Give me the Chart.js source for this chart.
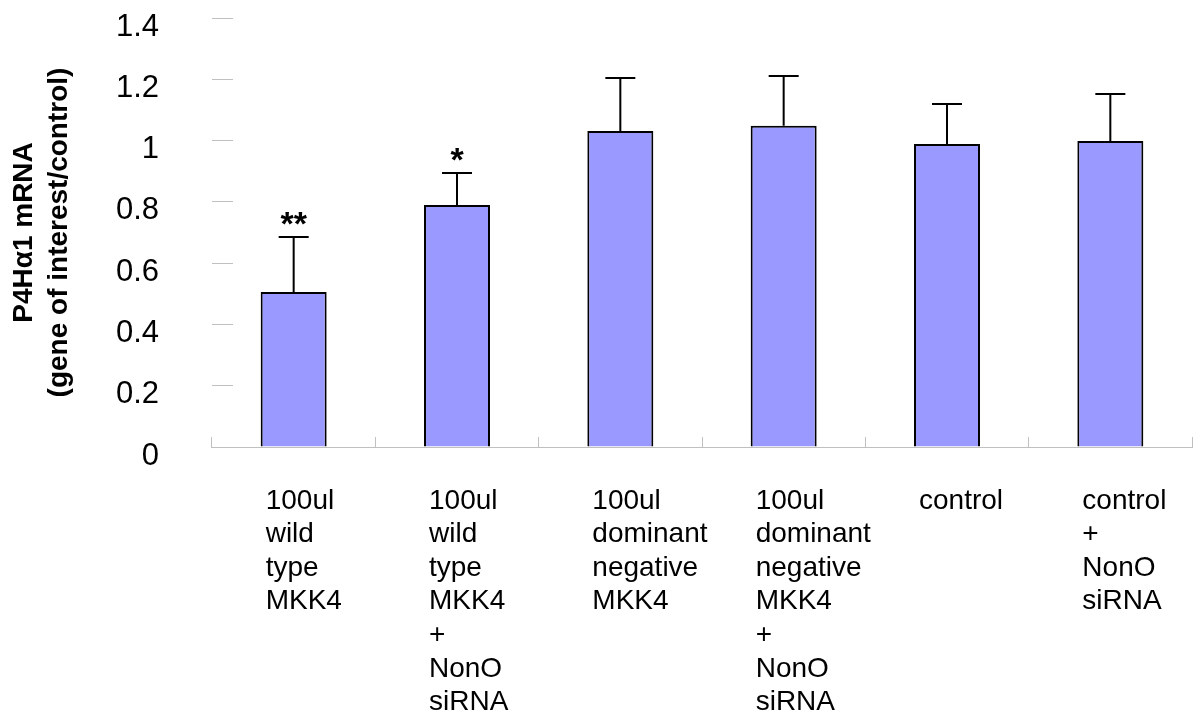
<!DOCTYPE html>
<html>
<head>
<meta charset="utf-8">
<script src="https://cdn.jsdelivr.net/npm/chart.js@4.4.0/dist/chart.umd.min.js"></script>
<style>
    html, body { margin: 0; padding: 0; background: #fff; }
    #wrap { width: 1199px; height: 719px; }
</style>
</head>
<body>
<div id="wrap"><canvas id="chart"></canvas></div>
<script>
// Data
var categories = [
    ["100ul", "wild", "type", "MKK4"],
    ["100ul", "wild", "type", "MKK4", "+", "NonO", "siRNA"],
    ["100ul", "dominant", "negative", "MKK4"],
    ["100ul", "dominant", "negative", "MKK4", "+", "NonO", "siRNA"],
    ["control"],
    ["control", "+", "NonO", "siRNA"]
];
var meanValues = [0.506, 0.790, 1.031, 1.048, 0.989, 0.999];
var errorValues = [0.179, 0.104, 0.173, 0.163, 0.130, 0.153];
var significance = ["**", "*", "", "", "", ""];
var yTickLabels = ["0", "0.2", "0.4", "0.6", "0.8", "1", "1.2", "1.4"];

var fontFamily = "'Liberation Sans', Arial, sans-serif";

// Upper error whiskers + significance stars
var errorBarPlugin = {
    id: "errorBars",
    afterDatasetsDraw: function (chart) {
        var ctx = chart.ctx;
        var yScale = chart.scales.y;
        var meta = chart.getDatasetMeta(0);
        ctx.save();
        ctx.strokeStyle = "#000";
        ctx.lineWidth = 2;
        meta.data.forEach(function (bar, i) {
            var top = yScale.getPixelForValue(meanValues[i] + errorValues[i]);
            var x = bar.x;
            ctx.beginPath();
            ctx.moveTo(x, bar.y);
            ctx.lineTo(x, top);
            ctx.moveTo(x - 15, top);
            ctx.lineTo(x + 15, top);
            ctx.stroke();
            if (significance[i]) {
                ctx.fillStyle = "#000";
                ctx.font = "bold 34px " + fontFamily;
                ctx.textAlign = "center";
                ctx.textBaseline = "alphabetic";
                ctx.fillText(significance[i], x, top - 2);
            }
        });
        ctx.restore();
    }
};

var ctx = document.getElementById("chart").getContext("2d");
new Chart(ctx, {
    type: "bar",
    data: {
        labels: categories,
        datasets: [{
            data: meanValues,
            backgroundColor: "#9999ff",
            borderColor: "#000",
            borderWidth: 2,
            barPercentage: 0.404,
            categoryPercentage: 1
        }]
    },
    options: {
        responsive: true,
        maintainAspectRatio: false,
        animation: false,
        layout: { padding: { top: 18, right: 7, bottom: 0, left: 0 } },
        plugins: {
            legend: { display: false },
            tooltip: { enabled: false }
        },
        scales: {
            x: {
                grid: {
                    drawOnChartArea: false,
                    drawTicks: true,
                    tickLength: -10,
                    color: "#c0c0c0",
                    lineWidth: 1,
                    offset: true
                },
                border: { display: true, color: "#c0c0c0", width: 1 },
                ticks: {
                    color: "#000",
                    font: { family: fontFamily, size: 28, lineHeight: 1.2 },
                    align: "start",
                    labelOffset: -28,
                    padding: 47,
                    maxRotation: 0,
                    minRotation: 0,
                    autoSkip: false
                },
                afterFit: function (scale) {
                    scale.height = 272;
                    scale.paddingLeft = 0;
                    scale.paddingRight = 0;
                }
            },
            y: {
                min: 0,
                max: 1.4,
                ticks: {
                    stepSize: 0.2,
                    color: "#000",
                    font: { family: fontFamily, size: 31 },
                    padding: 74,
                    labelOffset: 9,
                    callback: function (value, index) {
                        return yTickLabels[index];
                    }
                },
                grid: {
                    drawOnChartArea: false,
                    drawTicks: true,
                    tickLength: -21,
                    color: "#c0c0c0"
                },
                border: { display: false },
                title: {
                    display: true,
                    text: ["P4H\u03b11 mRNA", "(gene of interest/control)"],
                    color: "#000",
                    font: { family: fontFamily, size: 28, weight: "bold", lineHeight: 1.25 },
                    padding: { top: 7, bottom: 0 }
                },
                afterFit: function (scale) {
                    scale.width = 212;
                    scale.paddingTop = 0;
                    scale.paddingBottom = 0;
                }
            }
        }
    },
    plugins: [errorBarPlugin]
});
</script>
</body>
</html>
